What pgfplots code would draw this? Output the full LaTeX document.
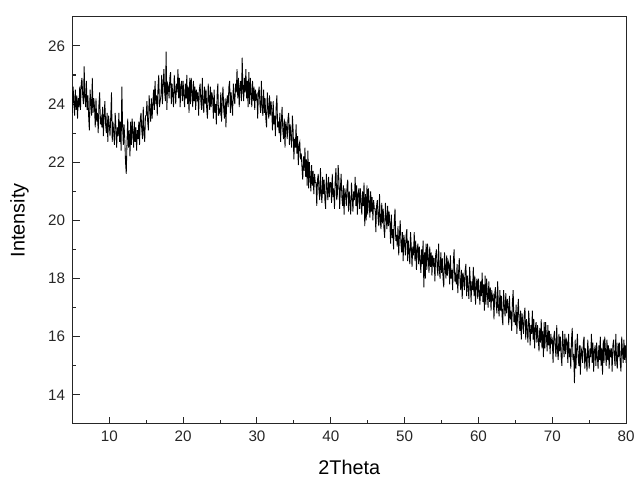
\documentclass[border=0pt]{standalone}
\usepackage{pgfplots}
\pgfplotsset{compat=1.18}
\usepackage{fontspec}
\setmainfont{Liberation Sans}
\begin{document}
\begin{tikzpicture}
\begin{axis}[
  scale only axis,
  width=419pt, height=308pt,
  xmin=5, xmax=80, ymin=13, ymax=27,
  xtick={10,20,...,80}, ytick={14,16,...,26},
  minor x tick num=1, minor y tick num=1,
  xtick pos=bottom, ytick pos=left,
  tick align=inside,
  major tick length=5.6pt, minor tick length=2.8pt,
  axis line style={line width=0.8pt, black!85},
  every tick/.style={line width=0.8pt, black!85},
  /pgf/number format/assume math mode=true,
  tick label style={font=\fontsize{11.5}{13}\selectfont, text=black!85},
  xticklabel style={yshift=-2pt},
  yticklabel style={xshift=-2pt},
  every axis x label/.style={at={(axis description cs:0.5,0)}, anchor=center, yshift=-33pt},
  every axis y label/.style={at={(axis description cs:0,0.5)}, xshift=-40pt, rotate=90, anchor=center},
  label style={font=\fontsize{15}{17}\selectfont},
  xlabel={2Theta}, ylabel={Intensity},
]
\addplot[black, line width=0.65pt, mark=none] table[row sep=\\] {
x y\\
5.0 23.7\\ 5.1 24.6\\ 5.2 24.1\\ 5.3 23.6\\ 5.4 24.5\\ 5.5 23.8\\ 5.6 24.3\\ 5.7 23.5\\ 5.8 24.2\\ 5.9 23.9\\
6.0 24.6\\ 6.1 23.8\\ 6.2 24.7\\ 6.3 24.9\\ 6.4 24.3\\ 6.5 24.0\\ 6.6 25.3\\ 6.7 24.2\\ 6.8 23.9\\ 6.9 24.8\\
7.0 23.8\\ 7.1 24.3\\ 7.2 23.6\\ 7.3 23.1\\ 7.4 24.5\\ 7.5 24.0\\ 7.6 23.6\\ 7.7 24.9\\ 7.8 23.7\\ 7.9 24.2\\
8.0 23.9\\ 8.1 23.2\\ 8.2 24.2\\ 8.3 23.4\\ 8.4 23.7\\ 8.5 23.0\\ 8.6 24.0\\ 8.7 24.4\\ 8.8 23.3\\ 8.9 23.5\\
9.0 23.2\\ 9.1 23.9\\ 9.2 22.9\\ 9.3 23.6\\ 9.4 24.1\\ 9.5 23.3\\ 9.6 23.0\\ 9.7 23.7\\ 9.8 22.7\\ 9.9 23.6\\
10.0 23.3\\ 10.1 22.9\\ 10.2 23.6\\ 10.3 24.4\\ 10.4 22.7\\ 10.5 23.4\\ 10.6 23.0\\ 10.7 22.6\\ 10.8 23.7\\ 10.9 23.2\\
11.0 22.5\\ 11.1 23.2\\ 11.2 22.9\\ 11.3 23.7\\ 11.4 22.7\\ 11.5 23.4\\ 11.6 22.4\\ 11.7 24.6\\ 11.8 23.3\\ 11.9 22.6\\
12.0 23.3\\ 12.1 22.8\\ 12.2 22.0\\ 12.3 21.6\\ 12.4 22.7\\ 12.5 23.5\\ 12.6 22.5\\ 12.7 23.1\\ 12.8 22.2\\ 12.9 23.4\\
13.0 22.6\\ 13.1 23.5\\ 13.2 23.0\\ 13.3 22.5\\ 13.4 23.4\\ 13.5 22.7\\ 13.6 23.2\\ 13.7 22.4\\ 13.8 23.1\\ 13.9 22.8\\
14.0 23.4\\ 14.1 22.6\\ 14.2 23.5\\ 14.3 23.7\\ 14.4 23.1\\ 14.5 22.8\\ 14.6 23.9\\ 14.7 23.0\\ 14.8 22.7\\ 14.9 23.6\\
15.0 23.6\\ 15.1 24.1\\ 15.2 23.4\\ 15.3 23.1\\ 15.4 24.3\\ 15.5 23.8\\ 15.6 23.4\\ 15.7 24.2\\ 15.8 23.5\\ 15.9 24.0\\
16.0 24.5\\ 16.1 23.8\\ 16.2 24.8\\ 16.3 24.0\\ 16.4 24.3\\ 16.5 23.6\\ 16.6 24.6\\ 16.7 25.0\\ 16.8 23.9\\ 16.9 24.1\\
17.0 24.3\\ 17.1 25.0\\ 17.2 24.0\\ 17.3 24.7\\ 17.4 25.2\\ 17.5 24.4\\ 17.6 24.1\\ 17.7 25.8\\ 17.8 23.8\\ 17.9 24.7\\
18.0 24.6\\ 18.1 24.2\\ 18.2 24.9\\ 18.3 25.1\\ 18.4 24.0\\ 18.5 24.7\\ 18.6 24.3\\ 18.7 23.9\\ 18.8 25.0\\ 18.9 24.5\\
19.0 24.0\\ 19.1 24.7\\ 19.2 24.4\\ 19.3 25.2\\ 19.4 24.2\\ 19.5 24.9\\ 19.6 23.9\\ 19.7 24.6\\ 19.8 24.8\\ 19.9 24.1\\
20.0 24.8\\ 20.1 24.3\\ 20.2 23.9\\ 20.3 24.7\\ 20.4 24.2\\ 20.5 25.0\\ 20.6 24.0\\ 20.7 24.6\\ 20.8 23.7\\ 20.9 24.9\\
21.0 24.0\\ 21.1 24.9\\ 21.2 24.4\\ 21.3 23.9\\ 21.4 24.8\\ 21.5 24.1\\ 21.6 24.6\\ 21.7 23.8\\ 21.8 24.5\\ 21.9 24.2\\
22.0 24.4\\ 22.1 23.6\\ 22.2 24.5\\ 22.3 24.7\\ 22.4 24.1\\ 22.5 23.8\\ 22.6 24.9\\ 22.7 24.0\\ 22.8 23.7\\ 22.9 24.6\\
23.0 24.0\\ 23.1 24.5\\ 23.2 23.8\\ 23.3 23.5\\ 23.4 24.7\\ 23.5 24.2\\ 23.6 23.8\\ 23.7 24.6\\ 23.8 23.9\\ 23.9 24.4\\
24.0 24.2\\ 24.1 23.5\\ 24.2 24.5\\ 24.3 23.7\\ 24.4 24.0\\ 24.5 23.3\\ 24.6 24.3\\ 24.7 24.7\\ 24.8 23.6\\ 24.9 23.8\\
25.0 23.7\\ 25.1 24.4\\ 25.2 23.4\\ 25.3 24.1\\ 25.4 24.6\\ 25.5 23.8\\ 25.6 23.5\\ 25.7 24.2\\ 25.8 23.2\\ 25.9 24.1\\
26.0 24.3\\ 26.1 23.9\\ 26.2 24.6\\ 26.3 24.8\\ 26.4 23.7\\ 26.5 24.4\\ 26.6 24.0\\ 26.7 23.6\\ 26.8 24.7\\ 26.9 24.2\\
27.0 24.0\\ 27.1 24.7\\ 27.2 24.4\\ 27.3 25.2\\ 27.4 24.2\\ 27.5 24.9\\ 27.6 23.9\\ 27.7 24.6\\ 27.8 24.8\\ 27.9 24.1\\
28.0 25.6\\ 28.1 24.5\\ 28.2 24.1\\ 28.3 24.9\\ 28.4 24.4\\ 28.5 25.2\\ 28.6 24.2\\ 28.7 24.8\\ 28.8 23.9\\ 28.9 25.1\\
29.0 24.0\\ 29.1 24.9\\ 29.2 24.4\\ 29.3 23.9\\ 29.4 24.8\\ 29.5 24.1\\ 29.6 24.6\\ 29.7 23.8\\ 29.8 24.5\\ 29.9 24.2\\
30.0 24.3\\ 30.1 23.5\\ 30.2 24.4\\ 30.3 24.6\\ 30.4 24.0\\ 30.5 23.7\\ 30.6 24.8\\ 30.7 23.9\\ 30.8 23.6\\ 30.9 24.5\\
31.0 23.7\\ 31.1 24.2\\ 31.2 23.5\\ 31.3 23.2\\ 31.4 24.4\\ 31.5 23.9\\ 31.6 23.5\\ 31.7 24.3\\ 31.8 23.6\\ 31.9 24.1\\
32.0 23.8\\ 32.1 23.1\\ 32.2 24.1\\ 32.3 23.3\\ 32.4 23.6\\ 32.5 22.9\\ 32.6 23.9\\ 32.7 24.3\\ 32.8 23.2\\ 32.9 23.4\\
33.0 23.0\\ 33.1 23.7\\ 33.2 22.7\\ 33.3 23.4\\ 33.4 23.9\\ 33.5 23.1\\ 33.6 22.8\\ 33.7 23.5\\ 33.8 22.5\\ 33.9 23.4\\
34.0 23.2\\ 34.1 22.8\\ 34.2 23.5\\ 34.3 23.7\\ 34.4 22.6\\ 34.5 23.3\\ 34.6 22.9\\ 34.7 22.5\\ 34.8 23.6\\ 34.9 23.1\\
35.0 22.1\\ 35.1 22.8\\ 35.2 22.5\\ 35.3 23.3\\ 35.4 22.3\\ 35.5 22.9\\ 35.6 21.9\\ 35.7 22.6\\ 35.8 22.7\\ 35.9 22.1\\
36.0 22.3\\ 36.1 21.8\\ 36.2 21.4\\ 36.3 22.2\\ 36.4 21.7\\ 36.5 22.5\\ 36.6 21.5\\ 36.7 22.1\\ 36.8 21.2\\ 36.9 22.4\\
37.0 21.1\\ 37.1 22.0\\ 37.2 21.5\\ 37.3 21.0\\ 37.4 21.9\\ 37.5 21.2\\ 37.6 21.7\\ 37.7 20.9\\ 37.8 21.6\\ 37.9 21.3\\
38.0 21.3\\ 38.1 20.5\\ 38.2 21.4\\ 38.3 21.6\\ 38.4 21.0\\ 38.5 20.7\\ 38.6 21.8\\ 38.7 20.9\\ 38.8 20.6\\ 38.9 21.5\\
39.0 20.9\\ 39.1 21.4\\ 39.2 20.7\\ 39.3 20.4\\ 39.4 21.6\\ 39.5 21.1\\ 39.6 20.7\\ 39.7 21.5\\ 39.8 20.8\\ 39.9 21.3\\
40.0 21.3\\ 40.1 20.6\\ 40.2 21.6\\ 40.3 20.8\\ 40.4 21.1\\ 40.5 20.4\\ 40.6 21.4\\ 40.7 21.8\\ 40.8 20.7\\ 40.9 20.9\\
41.0 21.9\\ 41.1 21.4\\ 41.2 20.4\\ 41.3 21.1\\ 41.4 21.6\\ 41.5 20.8\\ 41.6 20.5\\ 41.7 21.2\\ 41.8 20.2\\ 41.9 21.1\\
42.0 20.9\\ 42.1 20.5\\ 42.2 21.2\\ 42.3 21.4\\ 42.4 20.3\\ 42.5 21.0\\ 42.6 20.6\\ 42.7 20.2\\ 42.8 21.3\\ 42.9 20.8\\
43.0 20.3\\ 43.1 21.0\\ 43.2 20.7\\ 43.3 21.5\\ 43.4 20.5\\ 43.5 21.2\\ 43.6 20.2\\ 43.7 20.9\\ 43.8 21.1\\ 43.9 20.4\\
44.0 21.1\\ 44.1 20.6\\ 44.2 20.2\\ 44.3 21.0\\ 44.4 20.5\\ 44.5 21.3\\ 44.6 19.8\\ 44.7 20.9\\ 44.8 20.0\\ 44.9 21.2\\
45.0 20.2\\ 45.1 21.1\\ 45.2 20.6\\ 45.3 20.1\\ 45.4 21.0\\ 45.5 20.3\\ 45.6 20.8\\ 45.7 20.0\\ 45.8 20.7\\ 45.9 20.4\\
46.0 20.4\\ 46.1 19.6\\ 46.2 20.5\\ 46.3 20.7\\ 46.4 20.1\\ 46.5 19.8\\ 46.6 20.9\\ 46.7 20.0\\ 46.8 19.7\\ 46.9 20.6\\
47.0 19.9\\ 47.1 20.4\\ 47.2 19.7\\ 47.3 19.4\\ 47.4 20.6\\ 47.5 20.1\\ 47.6 19.7\\ 47.7 20.5\\ 47.8 19.8\\ 47.9 20.3\\
48.0 19.9\\ 48.1 19.2\\ 48.2 20.2\\ 48.3 19.4\\ 48.4 19.7\\ 48.5 19.0\\ 48.6 20.0\\ 48.7 20.4\\ 48.8 19.3\\ 48.9 19.5\\
49.0 19.1\\ 49.1 19.8\\ 49.2 18.8\\ 49.3 19.5\\ 49.4 20.0\\ 49.5 19.2\\ 49.6 18.9\\ 49.7 19.6\\ 49.8 18.6\\ 49.9 19.5\\
50.0 19.2\\ 50.1 18.8\\ 50.2 19.5\\ 50.3 19.7\\ 50.4 18.6\\ 50.5 19.3\\ 50.6 18.9\\ 50.7 18.5\\ 50.8 19.6\\ 50.9 19.1\\
51.0 18.4\\ 51.1 19.1\\ 51.2 18.8\\ 51.3 19.6\\ 51.4 18.6\\ 51.5 19.3\\ 51.6 18.3\\ 51.7 19.0\\ 51.8 19.2\\ 51.9 18.5\\
52.0 19.1\\ 52.1 18.6\\ 52.2 18.2\\ 52.3 19.0\\ 52.4 18.5\\ 52.5 19.3\\ 52.6 17.7\\ 52.7 18.9\\ 52.8 18.0\\ 52.9 19.2\\
53.0 18.3\\ 53.1 19.2\\ 53.2 18.7\\ 53.3 18.2\\ 53.4 19.1\\ 53.5 18.4\\ 53.6 18.9\\ 53.7 18.1\\ 53.8 18.8\\ 53.9 18.5\\
54.0 18.7\\ 54.1 17.9\\ 54.2 18.8\\ 54.3 19.0\\ 54.4 18.4\\ 54.5 18.1\\ 54.6 19.2\\ 54.7 18.3\\ 54.8 18.0\\ 54.9 18.9\\
55.0 18.2\\ 55.1 18.7\\ 55.2 18.0\\ 55.3 17.7\\ 55.4 18.9\\ 55.5 18.4\\ 55.6 18.0\\ 55.7 18.8\\ 55.8 18.1\\ 55.9 18.6\\
56.0 18.5\\ 56.1 17.8\\ 56.2 18.8\\ 56.3 18.0\\ 56.4 18.3\\ 56.5 17.6\\ 56.6 18.6\\ 56.7 19.0\\ 56.8 17.9\\ 56.9 18.1\\
57.0 17.8\\ 57.1 18.5\\ 57.2 17.5\\ 57.3 18.2\\ 57.4 18.7\\ 57.5 17.9\\ 57.6 17.6\\ 57.7 18.3\\ 57.8 17.3\\ 57.9 18.2\\
58.0 18.0\\ 58.1 17.6\\ 58.2 18.3\\ 58.3 18.5\\ 58.4 17.4\\ 58.5 18.1\\ 58.6 17.7\\ 58.7 17.3\\ 58.8 18.4\\ 58.9 17.9\\
59.0 17.2\\ 59.1 17.9\\ 59.2 17.6\\ 59.3 18.4\\ 59.4 17.4\\ 59.5 18.1\\ 59.6 17.1\\ 59.7 17.8\\ 59.8 18.0\\ 59.9 17.3\\
60.0 18.0\\ 60.1 17.5\\ 60.2 17.1\\ 60.3 17.9\\ 60.4 17.4\\ 60.5 18.2\\ 60.6 17.2\\ 60.7 17.8\\ 60.8 16.9\\ 60.9 18.1\\
61.0 17.1\\ 61.1 18.0\\ 61.2 17.5\\ 61.3 17.0\\ 61.4 17.9\\ 61.5 17.2\\ 61.6 17.7\\ 61.7 16.9\\ 61.8 17.6\\ 61.9 17.3\\
62.0 17.4\\ 62.1 16.6\\ 62.2 17.5\\ 62.3 17.7\\ 62.4 17.1\\ 62.5 16.8\\ 62.6 17.9\\ 62.7 17.0\\ 62.8 16.7\\ 62.9 17.6\\
63.0 16.9\\ 63.1 17.4\\ 63.2 16.7\\ 63.3 16.4\\ 63.4 17.6\\ 63.5 17.1\\ 63.6 16.7\\ 63.7 17.5\\ 63.8 16.8\\ 63.9 17.3\\
64.0 17.1\\ 64.1 16.4\\ 64.2 17.4\\ 64.3 16.6\\ 64.4 16.9\\ 64.5 16.2\\ 64.6 17.2\\ 64.7 17.6\\ 64.8 16.5\\ 64.9 16.7\\
65.0 16.4\\ 65.1 17.1\\ 65.2 16.1\\ 65.3 16.8\\ 65.4 17.3\\ 65.5 16.5\\ 65.6 16.2\\ 65.7 16.9\\ 65.8 15.9\\ 65.9 16.8\\
66.0 16.5\\ 66.1 16.1\\ 66.2 16.8\\ 66.3 17.0\\ 66.4 15.9\\ 66.5 16.6\\ 66.6 16.2\\ 66.7 15.8\\ 66.8 16.9\\ 66.9 16.4\\
67.0 15.7\\ 67.1 16.4\\ 67.2 16.1\\ 67.3 16.9\\ 67.4 15.9\\ 67.5 16.6\\ 67.6 15.6\\ 67.7 16.3\\ 67.8 16.5\\ 67.9 15.8\\
68.0 16.4\\ 68.1 15.9\\ 68.2 15.5\\ 68.3 16.3\\ 68.4 15.8\\ 68.5 16.6\\ 68.6 15.6\\ 68.7 16.2\\ 68.8 15.3\\ 68.9 16.5\\
69.0 15.6\\ 69.1 16.5\\ 69.2 16.0\\ 69.3 15.5\\ 69.4 16.4\\ 69.5 15.7\\ 69.6 16.2\\ 69.7 15.4\\ 69.8 16.1\\ 69.9 15.8\\
70.0 15.9\\ 70.1 15.1\\ 70.2 16.0\\ 70.3 16.2\\ 70.4 15.6\\ 70.5 15.3\\ 70.6 16.4\\ 70.7 15.5\\ 70.8 15.2\\ 70.9 16.1\\
71.0 15.5\\ 71.1 16.0\\ 71.2 15.3\\ 71.3 15.0\\ 71.4 16.2\\ 71.5 15.7\\ 71.6 15.3\\ 71.7 16.1\\ 71.8 15.4\\ 71.9 15.9\\
72.0 15.8\\ 72.1 15.1\\ 72.2 16.1\\ 72.3 15.3\\ 72.4 15.6\\ 72.5 14.9\\ 72.6 15.9\\ 72.7 16.3\\ 72.8 15.2\\ 72.9 15.4\\
73.0 14.4\\ 73.1 15.9\\ 73.2 14.9\\ 73.3 15.6\\ 73.4 16.1\\ 73.5 15.3\\ 73.6 15.0\\ 73.7 15.7\\ 73.8 14.7\\ 73.9 15.6\\
74.0 15.5\\ 74.1 15.1\\ 74.2 15.8\\ 74.3 16.0\\ 74.4 14.9\\ 74.5 15.6\\ 74.6 15.2\\ 74.7 14.8\\ 74.8 15.9\\ 74.9 15.4\\
75.0 14.9\\ 75.1 15.6\\ 75.2 15.3\\ 75.3 16.1\\ 75.4 15.1\\ 75.5 15.8\\ 75.6 14.8\\ 75.7 15.5\\ 75.8 15.7\\ 75.9 15.0\\
76.0 15.8\\ 76.1 15.3\\ 76.2 14.9\\ 76.3 15.7\\ 76.4 15.2\\ 76.5 16.0\\ 76.6 15.0\\ 76.7 15.6\\ 76.8 14.7\\ 76.9 15.9\\
77.0 15.1\\ 77.1 16.0\\ 77.2 15.5\\ 77.3 15.0\\ 77.4 15.9\\ 77.5 15.2\\ 77.6 15.7\\ 77.7 14.9\\ 77.8 15.6\\ 77.9 15.3\\
78.0 15.6\\ 78.1 14.8\\ 78.2 15.7\\ 78.3 15.9\\ 78.4 15.3\\ 78.5 15.0\\ 78.6 16.1\\ 78.7 15.2\\ 78.8 14.9\\ 78.9 15.8\\
79.0 15.3\\ 79.1 15.8\\ 79.2 15.1\\ 79.3 14.8\\ 79.4 16.0\\ 79.5 15.5\\ 79.6 15.1\\ 79.7 15.9\\ 79.8 15.2\\ 79.9 15.7\\
80.0 15.1\\
};
\end{axis}
\path (current axis.south west) ++(-54.75pt,-41.25pt) coordinate (bbA);
\path (current axis.north east) ++(5.25pt,12.75pt) coordinate (bbB);
\useasboundingbox (bbA) rectangle (bbB);
\end{tikzpicture}
\end{document}
